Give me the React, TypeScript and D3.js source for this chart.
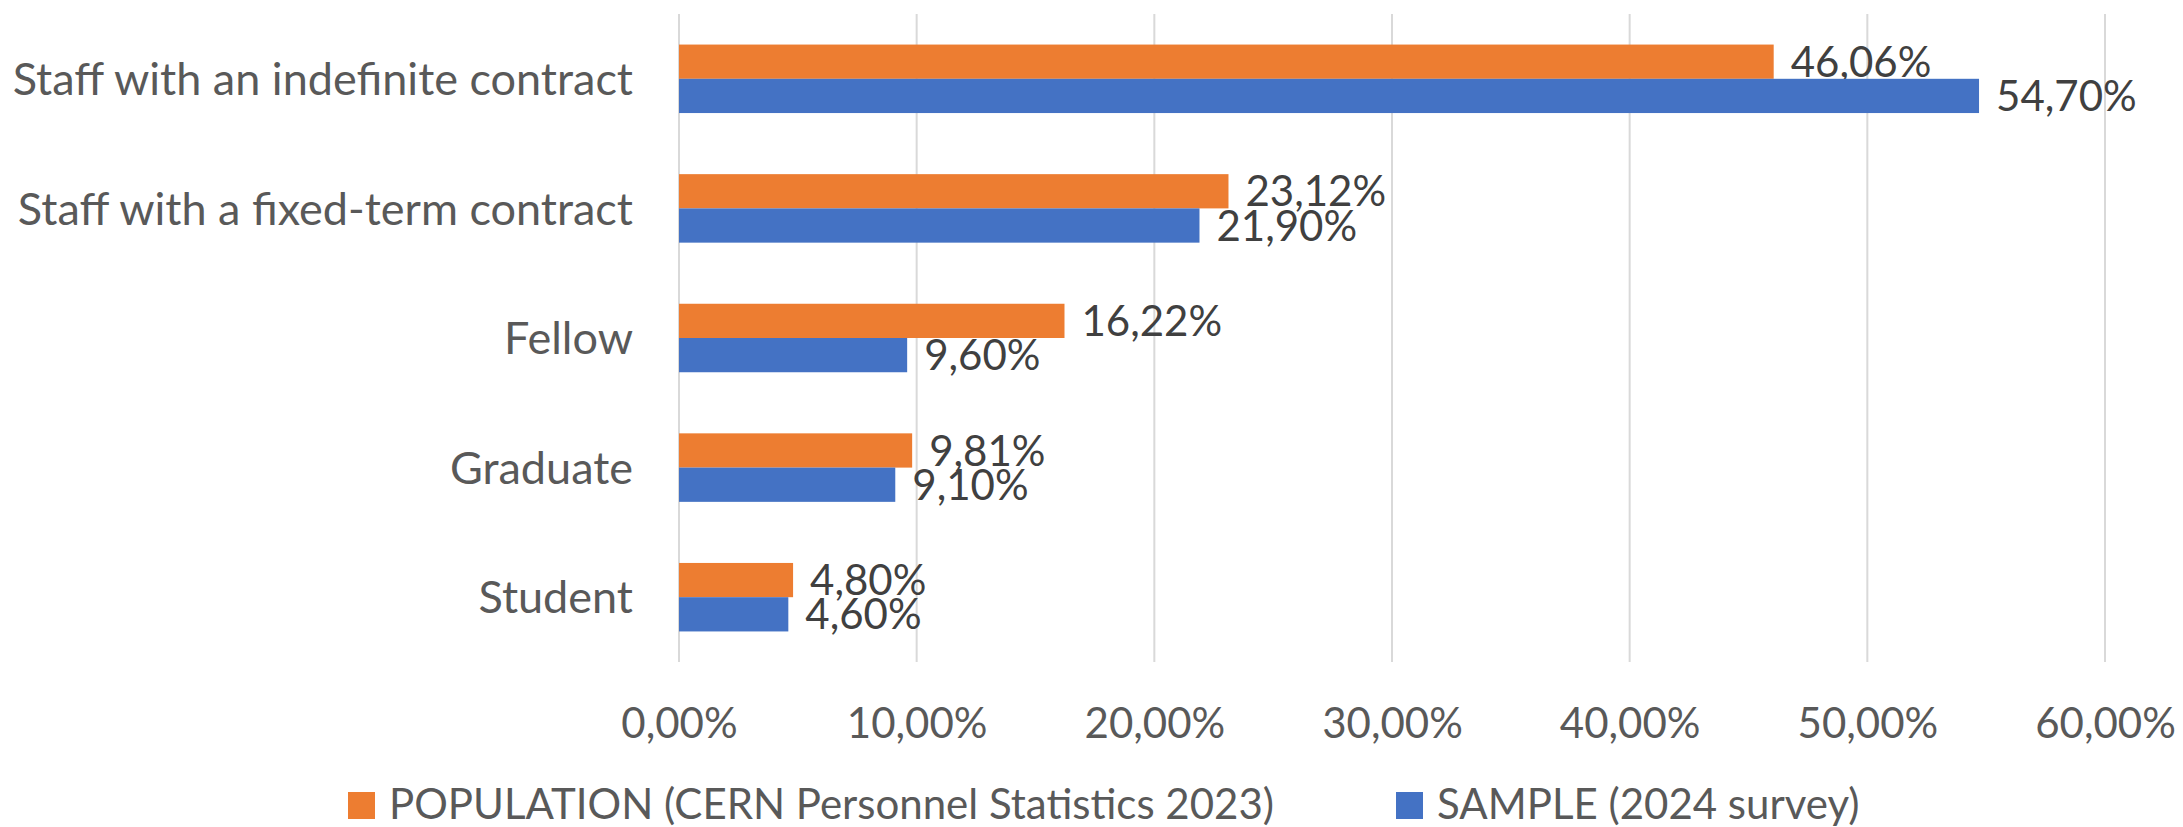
import React, { useEffect, useRef } from 'react';
import { scaleLinear, scaleBand, select, axisBottom } from 'd3';

const categories = [
  'Staff with an indefinite contract',
  'Staff with a fixed-term contract',
  'Fellow',
  'Graduate',
  'Student',
];
const seriesNames = ['POPULATION (CERN Personnel Statistics 2023)', 'SAMPLE (2024 survey)'];
const population = [46.06, 23.12, 16.22, 9.81, 4.8];
const sample = [54.7, 21.9, 9.6, 9.1, 4.6];
const xTicks = [0, 10, 20, 30, 40, 50, 60];

const colors = ['#ED7D31', '#4472C4'];
const FONT = 'Lato, "Open Sans", sans-serif';
const W = 2183;
const H = 827;

const fmt = (v: number) => v.toFixed(2).replace('.', ',') + '%';

export default function App() {
  const ref = useRef<SVGSVGElement>(null);

  useEffect(() => {
    const svg = select(ref.current);
    svg.selectAll('*').remove();

    const margin = { top: 14, right: 78, bottom: 165, left: 679 };
    const series = [population, sample];

    const x = scaleLinear()
      .domain([0, 60])
      .range([margin.left, W - margin.right]);

    const y = scaleBand()
      .domain(categories)
      .range([margin.top, H - margin.bottom])
      .paddingInner(0.4715)
      .paddingOuter(0.4715 / 2);

    const ySub = scaleBand()
      .domain(['0', '1'])
      .range([0, y.bandwidth()]);

    // grid
    svg.append('g')
      .selectAll('line')
      .data(xTicks)
      .join('line')
        .attr('x1', d => x(d))
        .attr('x2', d => x(d))
        .attr('y1', margin.top)
        .attr('y2', H - margin.bottom)
        .attr('stroke', '#D9D9D9')
        .attr('stroke-width', 2);

    // bars + value labels
    series.forEach((vals, si) => {
      svg.append('g')
        .attr('fill', colors[si])
        .selectAll('rect')
        .data(vals)
        .join('rect')
          .attr('x', x(0))
          .attr('y', (d, i) => y(categories[i])! + ySub(String(si))!)
          .attr('width', d => x(d) - x(0))
          .attr('height', ySub.bandwidth());

      svg.append('g')
        .selectAll('text')
        .data(vals)
        .join('text')
          .attr('x', d => x(d) + 17)
          .attr('y', (d, i) => y(categories[i])! + ySub(String(si))! + ySub.bandwidth() / 2)
          .attr('dy', '0.36em')
          .attr('font-family', FONT)
          .attr('font-size', 42)
          .attr('fill', '#404040')
          .text(d => fmt(d));
    });

    // category labels
    svg.append('g')
      .selectAll('text')
      .data(categories)
      .join('text')
        .attr('x', 633)
        .attr('y', d => y(d)! + y.bandwidth() / 2)
        .attr('dy', '0.36em')
        .attr('text-anchor', 'end')
        .attr('font-family', FONT)
        .attr('font-size', 45)
        .attr('fill', '#595959')
        .text(d => d);

    // x axis labels
    svg.append('g')
      .attr('transform', `translate(0,${H - margin.bottom})`)
      .call(axisBottom(x).tickValues(xTicks).tickSize(0).tickPadding(46).tickFormat(d => fmt(+d)))
      .call(g => g.select('.domain').remove())
      .call(g => g.selectAll('text')
        .attr('font-family', FONT)
        .attr('font-size', 42)
        .attr('fill', '#595959'));

    // legend
    const legendX = [348, 1396];
    const lg = svg.append('g');
    seriesNames.forEach((name, i) => {
      lg.append('rect')
        .attr('x', legendX[i])
        .attr('y', 792)
        .attr('width', 27)
        .attr('height', 27)
        .attr('fill', colors[i]);
      lg.append('text')
        .attr('x', legendX[i] + 41)
        .attr('y', 804)
        .attr('dy', '0.36em')
        .attr('font-family', FONT)
        .attr('font-size', 42)
        .attr('fill', '#595959')
        .text(name);
    });
  }, []);

  return (
    <svg
      ref={ref}
      width={W}
      height={H}
      style={{ position: 'absolute', left: 0, top: 0, background: '#fff' }}
    />
  );
}
